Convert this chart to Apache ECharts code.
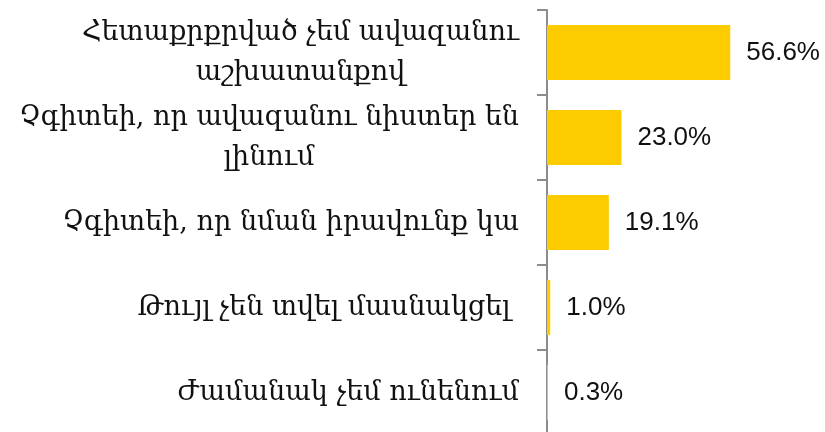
<!DOCTYPE html>
<html>
<head>
<meta charset="utf-8">
<script src="https://cdn.jsdelivr.net/npm/echarts@6/dist/echarts.min.js"></script>
<style>
  html, body { margin: 0; padding: 0; background: #ffffff; }
  #chart { width: 825px; height: 432px; }
</style>
</head>
<body>
<div id="chart"></div>
<script>
// Reasons for not taking part, share of respondents (%)
const categories = [
  'Հետաքրքրված չեմ ավազանու\nաշխատանքով',
  'Չգիտեի, որ ավազանու նիստեր են\nլինում',
  'Չգիտեի, որ նման իրավունք կա',
  'Թույլ չեն տվել մասնակցել ',
  'Ժամանակ չեմ ունենում'
];
const shares = [56.6, 23.0, 19.1, 1.0, 0.3];

const labelFont = 'DejaVu Serif, serif';

const chart = echarts.init(document.getElementById('chart'), null, { renderer: 'canvas' });

chart.setOption({
  animation: false,
  backgroundColor: '#ffffff',
  grid: { left: 547, top: 10, height: 425, right: 19, outerBoundsMode: 'none', containLabel: false },
  xAxis: {
    type: 'value',
    min: 0,
    max: 80,
    show: false
  },
  yAxis: {
    type: 'category',
    inverse: true,
    data: categories,
    axisLine: { show: true, lineStyle: { color: '#8c8c8c', width: 2 } },
    axisTick: { show: true, length: 10, lineStyle: { color: '#8c8c8c', width: 2 } },
    axisLabel: {
      margin: 28,
      align: 'right',
      color: '#111111',
      fontFamily: labelFont,
      fontSize: 27,
      lineHeight: 40,
      formatter: function (v) {
        // each line centred within the label block
        return v.split('\n').map(function (s) { return '{c|' + s + '}'; }).join('\n');
      },
      rich: {
        c: { align: 'center', fontFamily: labelFont, fontSize: 27, lineHeight: 40, color: '#111111' }
      }
    },
    splitLine: { show: false }
  },
  series: [{
    type: 'bar',
    data: shares,
    barWidth: 55,
    itemStyle: { color: '#FDCC00' },
    label: {
      show: true,
      position: 'right',
      distance: 16,
      color: '#111111',
      fontFamily: 'Liberation Sans, Arial, sans-serif',
      fontSize: 26,
      formatter: function (p) { return p.value.toFixed(1) + '%'; }
    }
  }]
});
</script>
</body>
</html>
